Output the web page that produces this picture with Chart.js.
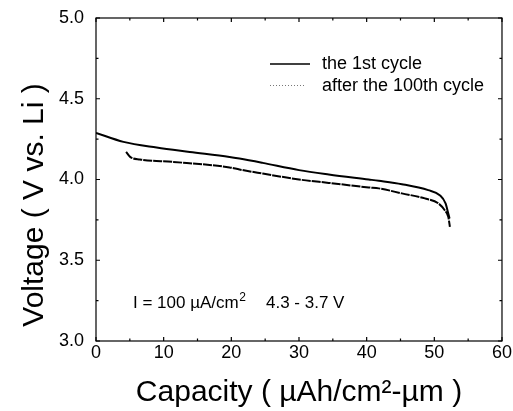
<!DOCTYPE html>
<html>
<head>
<meta charset="utf-8">
<script src="https://cdn.jsdelivr.net/npm/chart.js@4"></script>
<style>
  html, body { margin: 0; padding: 0; background: #fff; }
  #wrap { width: 513px; height: 411px; }
</style>
</head>
<body>
<div id="wrap"><canvas id="chart"></canvas></div>
<script>
const firstCap = [0, 4.06, 8.96, 13.86, 19.73, 21.2, 24.63, 30.0, 34.4, 40.3, 41.8, 45.2, 49.1, 50.8, 51.66, 52.06, 52.25]
const firstVolt = [4.289, 4.233, 4.198, 4.171, 4.140, 4.130, 4.103, 4.058, 4.031, 4.000, 3.992, 3.971, 3.934, 3.903, 3.852, 3.790, 3.759]

const cycle100Cap = [4.45, 5.04, 6.51, 11.4, 19.73, 21.2, 24.63, 30.0, 34.4, 40.3, 41.8, 45.2, 48.6, 50.6, 51.57, 52.06, 52.3]
const cycle100Volt = [4.171, 4.140, 4.124, 4.109, 4.075, 4.062, 4.037, 4.000, 3.979, 3.951, 3.945, 3.914, 3.883, 3.852, 3.808, 3.769, 3.707]

const xTicks = [0, 10, 20, 30, 40, 50, 60]
const xMinor = [5, 15, 25, 35, 45, 55]
const yTicks = [3.0, 3.5, 4.0, 4.5, 5.0]
const yMinor = [3.25, 3.75, 4.25, 4.75]

const seriesLabels = ["the 1st cycle", "after the 100th cycle"]

const toPoints = (xs, ys) => xs.map((x, i) => ({ x: x, y: ys[i] }))
const FONT = "'Liberation Sans', Arial, Helvetica, sans-serif"

// frame, inward ticks, legend, y title and the note
const decorations = {
  id: "decorations",
  afterDraw(chart) {
    const { ctx, chartArea: a, scales: { x, y } } = chart
    ctx.save()
    ctx.strokeStyle = "#000"
    ctx.lineWidth = 1.2
    ctx.strokeRect(a.left, a.top, a.right - a.left, a.bottom - a.top)

    const tick = (vals, len) => {
      vals.forEach(v => {
        const px = x.getPixelForValue(v)
        ctx.beginPath()
        ctx.moveTo(px, a.bottom); ctx.lineTo(px, a.bottom - len)
        ctx.moveTo(px, a.top); ctx.lineTo(px, a.top + len)
        ctx.stroke()
      })
    }
    const ytick = (vals, len) => {
      vals.forEach(v => {
        const py = y.getPixelForValue(v)
        ctx.beginPath()
        ctx.moveTo(a.left, py); ctx.lineTo(a.left + len, py)
        ctx.moveTo(a.right, py); ctx.lineTo(a.right - len, py)
        ctx.stroke()
      })
    }
    tick(xTicks, 4); tick(xMinor, 2.5)
    ytick(yTicks, 4); ytick(yMinor, 2.5)

    // legend
    ctx.fillStyle = "#000"
    ctx.font = "18px " + FONT
    ctx.textAlign = "left"
    ctx.textBaseline = "alphabetic"
    ctx.lineWidth = 1.6
    ctx.beginPath(); ctx.moveTo(270, 64); ctx.lineTo(310, 64); ctx.stroke()
    ctx.fillText(seriesLabels[0], 322, 69)
    ctx.lineWidth = 1
    ctx.strokeStyle = "#777"
    ctx.setLineDash([1, 2])
    ctx.beginPath(); ctx.moveTo(270, 85.5); ctx.lineTo(306, 85.5); ctx.stroke()
    ctx.setLineDash([])
    ctx.fillText(seriesLabels[1], 322, 91)

    // note
    ctx.font = "17px " + FONT
    ctx.fillText("I = 100 \u00b5A/cm", 133, 308)
    let w = ctx.measureText("I = 100 \u00b5A/cm").width
    ctx.font = "12px " + FONT
    ctx.fillText("2", 133 + w + 0.5, 301)
    ctx.font = "17px " + FONT
    ctx.fillText("4.3 - 3.7 V", 266, 308)

    // y title
    ctx.translate(43, 205)
    ctx.rotate(-Math.PI / 2)
    ctx.font = "30px " + FONT
    ctx.textAlign = "center"
    ctx.fillText("Voltage ( V vs. Li )", 0, 0)
    ctx.restore()
  }
}

new Chart(document.getElementById("chart"), {
  type: "scatter",
  data: {
    datasets: [
      {
        label: seriesLabels[0],
        data: toPoints(firstCap, firstVolt),
        showLine: true,
        borderColor: "#000",
        borderWidth: 2,
        pointRadius: 0,
        cubicInterpolationMode: "monotone"
      },
      {
        label: seriesLabels[1],
        data: toPoints(cycle100Cap, cycle100Volt),
        showLine: true,
        borderColor: "#000",
        borderWidth: 2,
        borderDash: [9, 1],
        pointRadius: 0,
        cubicInterpolationMode: "monotone"
      }
    ]
  },
  options: {
    responsive: true,
    maintainAspectRatio: false,
    animation: false,
    layout: { padding: { left: 0, right: 5, top: 18, bottom: 0 } },
    plugins: {
      legend: { display: false },
      tooltip: { enabled: false }
    },
    scales: {
      x: {
        type: "linear",
        min: 0,
        max: 60,
        afterBuildTicks: s => { s.ticks = xTicks.map(v => ({ value: v })) },
        afterFit: s => { s.height = 70 },
        grid: { display: false, drawTicks: false },
        border: { display: false },
        ticks: { color: "#000", padding: 1, font: { size: 18, family: FONT } },
        title: {
          display: true,
          text: "Capacity ( \u00b5Ah/cm\u00b2-\u00b5m )",
          color: "#000",
          font: { size: 30, family: FONT, lineHeight: 1.2 },
          padding: { top: 0, bottom: 0 }
        }
      },
      y: {
        type: "linear",
        min: 3.0,
        max: 5.0,
        afterBuildTicks: s => { s.ticks = yTicks.map(v => ({ value: v })) },
        afterFit: s => { s.width = 96; s.paddingTop = 0; s.paddingBottom = 0 },
        grid: { display: false, drawTicks: false },
        border: { display: false },
        ticks: {
          color: "#000",
          padding: 12,
          font: { size: 18, family: FONT },
          callback: v => v.toFixed(1)
        }
      }
    }
  },
  plugins: [decorations]
})
</script>
</body>
</html>
